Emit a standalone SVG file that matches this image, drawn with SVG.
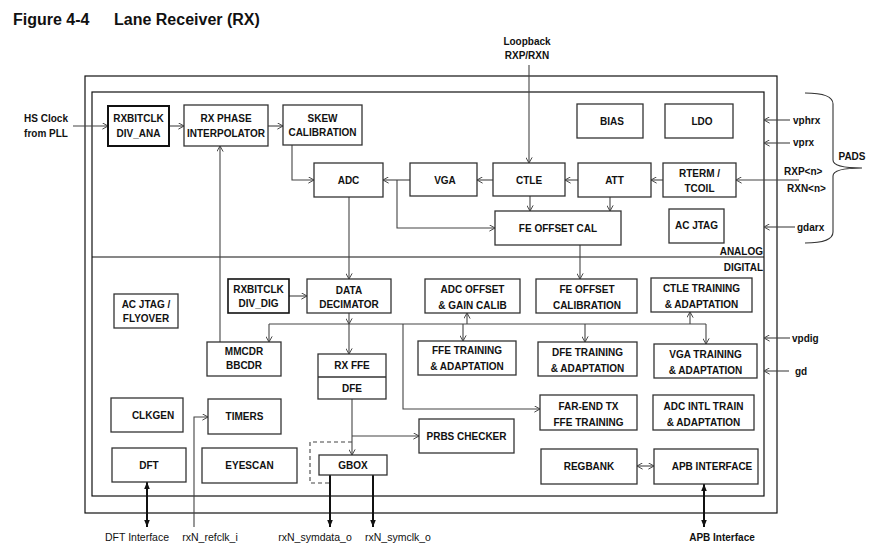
<svg xmlns="http://www.w3.org/2000/svg" width="871" height="550" viewBox="0 0 871 550">
<style>
text{font-family:"Liberation Sans",Arial,sans-serif;font-size:10px;font-weight:bold;fill:#111}
.c{text-anchor:middle}
.r{text-anchor:end}
.bx{fill:#fff;stroke:#333;stroke-width:1.3}
.bk{fill:#fff;stroke:#111;stroke-width:2}
.fr{fill:none;stroke:#111;stroke-width:1.2}
.ln{fill:none;stroke:#444;stroke-width:1.1}
.ar{marker-end:url(#a)}
.ab{marker-start:url(#a);marker-end:url(#a)}
.th{fill:none;stroke:#111;stroke-width:2}
.te{marker-end:url(#f)}
.tb{marker-start:url(#f);marker-end:url(#f)}
.reg{font-weight:normal;font-size:10.5px}
.title{font-size:16px}
</style>
<defs>
<marker id="a" viewBox="0 0 10 10" refX="10" refY="5" markerWidth="7" markerHeight="7" markerUnits="userSpaceOnUse" orient="auto-start-reverse"><path d="M2,0.5 L10,5 L2,9.5" fill="none" stroke="#444" stroke-width="1.4"/></marker>
<marker id="f" viewBox="0 0 10 10" refX="10" refY="5" markerWidth="7" markerHeight="7" markerUnits="userSpaceOnUse" orient="auto-start-reverse"><path d="M0,1 L10,5 L0,9 z" fill="#111"/></marker>
</defs>

<text x="13" y="25" class="title">Figure 4-4</text>
<text x="114" y="25" class="title">Lane Receiver (RX)</text>

<g id="frames">
<rect class="fr" x="85" y="76" width="692" height="437"/>
<rect class="fr" x="92" y="92" width="672" height="404"/>
<line class="fr" x1="92" y1="257" x2="764" y2="257"/>
<text x="763" y="255" class="r">ANALOG</text>
<text x="763" y="271" class="r">DIGITAL</text>
</g>

<g id="labels">
<text x="46" y="122" class="c">HS Clock</text>
<text x="46" y="137" class="c">from PLL</text>
<text x="527" y="45" class="c">Loopback</text>
<text x="527" y="59" class="c">RXP/RXN</text>
<text x="793" y="124">vphrx</text>
<text x="793" y="146">vprx</text>
<text x="784" y="175">RXP&lt;n&gt;</text>
<text x="787" y="192">RXN&lt;n&gt;</text>
<text x="797" y="231">gdarx</text>
<text x="792" y="342">vpdig</text>
<text x="795" y="375">gd</text>
<text x="852" y="160" class="c">PADS</text>
<path d="M805,93 Q833,93 833,104 V160 Q833,168 862,168 Q833,168 833,176 V232 Q833,243 805,243" fill="none" stroke="#333" stroke-width="1.1"/>
<text x="137" y="541" class="c reg">DFT  Interface</text>
<text x="210" y="541" class="c reg">rxN_refclk_i</text>
<text x="315" y="541" class="c reg">rxN_symdata_o</text>
<text x="398" y="541" class="c reg">rxN_symclk_o</text>
<text x="722" y="541" class="c">APB Interface</text>
</g>

<g id="connectors">
<path class="ln ar" d="M73,126 H108"/>
<path class="ln ar" d="M169,126 H184"/>
<path class="ln ar" d="M268,126 H283"/>
<path class="ln ar" d="M292,145 V180 H314"/>
<path class="ln ar" d="M220,342 V146"/>
<path class="ln ar" d="M529,65 V163"/>
<path class="ln ar" d="M493,180 H477"/>
<path class="ln ar" d="M410,180 H383"/>
<path class="ln ar" d="M578,180 H565"/>
<path class="ln ar" d="M663,180 H651"/>
<path class="ln ar" d="M799,180 H736"/>
<path class="ln ar" d="M397,180 V228 H495"/>
<path class="ln ar" d="M530,196 V211"/>
<path class="ln ar" d="M610,197 V211"/>
<path class="ln ar" d="M580,245 V279"/>
<path class="ln ar" d="M349,197 V279"/>
<path class="ln ar" d="M289,296 H307"/>
<path class="ln ar" d="M349,313 V324"/>
<path class="ln ar" d="M349,324 V354"/>
<path class="ln" d="M269,324 H706"/>
<path class="ln ar" d="M269,324 V342"/>
<path class="ln ar" d="M403,324 V409 H540"/>
<path class="ln ar" d="M463,324 V341"/>
<path class="ln ar" d="M467,324 V313"/>
<path class="ln ar" d="M585,324 V342"/>
<path class="ln ar" d="M690,324 V312"/>
<path class="ln ar" d="M706,324 V344"/>
<path class="ln ar" d="M352,399 V455"/>
<path class="ln ar" d="M352,436 H419"/>
<path class="ln ar" d="M194,527 V417 H208"/>
<path class="ln ab" d="M637,466 H654"/>
<path class="ln" d="M352,442 H310 V483 H330" stroke-dasharray="4,3"/>
<path class="th tb" d="M147,482 V527"/>
<path class="th te" d="M330,475 V527"/>
<path class="th te" d="M373,475 V527"/>
<path class="th tb" d="M704,484 V527"/>
<path class="ln ar" d="M790,120 H764"/>
<path class="ln ar" d="M790,143 H764"/>
<path class="ln ar" d="M795,227 H764"/>
<path class="ln ar" d="M790,338 H764"/>
<path class="ln ar" d="M789,371 H764"/>
</g>

<g id="rxbitclk_div_ana"><rect class="bk" x="108" y="106" width="61" height="40"/><text x="138.5" y="122" class="c">RXBITCLK</text><text x="138.5" y="137" class="c">DIV_ANA</text></g>
<g id="rx_phase_interpolator"><rect class="bx" x="184" y="105" width="84" height="41"/><text x="226" y="122" class="c">RX PHASE</text><text x="226" y="137" class="c">INTERPOLATOR</text></g>
<g id="skew_calibration"><rect class="bx" x="283" y="105" width="79" height="40"/><text x="322.5" y="122" class="c">SKEW</text><text x="322.5" y="136" class="c">CALIBRATION</text></g>
<g id="bias"><rect class="bx" x="577" y="104" width="66" height="34"/><text x="612" y="125" class="c">BIAS</text></g>
<g id="ldo"><rect class="bx" x="665" y="104" width="68" height="34"/><text x="702" y="125" class="c">LDO</text></g>
<g id="adc"><rect class="bx" x="314" y="163" width="69" height="34"/><text x="348.5" y="184" class="c">ADC</text></g>
<g id="vga"><rect class="bx" x="410" y="163" width="67" height="33"/><text x="445" y="184" class="c">VGA</text></g>
<g id="ctle"><rect class="bx" x="493" y="163" width="72" height="33"/><text x="529" y="184" class="c">CTLE</text></g>
<g id="att"><rect class="bx" x="578" y="163" width="73" height="34"/><text x="614.5" y="184" class="c">ATT</text></g>
<g id="rterm_tcoil"><rect class="bx" x="663" y="163" width="73" height="34"/><text x="699.5" y="177" class="c">RTERM /</text><text x="699.5" y="192" class="c">TCOIL</text></g>
<g id="fe_offset_cal"><rect class="bx" x="495" y="211" width="126" height="34"/><text x="558" y="232" class="c">FE OFFSET CAL</text></g>
<g id="ac_jtag"><rect class="bx" x="669" y="209" width="55" height="34"/><text x="696.5" y="229" class="c">AC JTAG</text></g>
<g id="rxbitclk_div_dig"><rect class="bk" x="228" y="279" width="61" height="34" style="stroke-width:1.6"/><text x="258.5" y="293" class="c">RXBITCLK</text><text x="258.5" y="307" class="c">DIV_DIG</text></g>
<g id="data_decimator"><rect class="bx" x="307" y="279" width="84" height="34"/><text x="349" y="294" class="c">DATA</text><text x="349" y="308" class="c">DECIMATOR</text></g>
<g id="ac_jtag_flyover"><rect class="bx" x="114" y="294" width="64" height="34"/><text x="146" y="308" class="c">AC JTAG /</text><text x="146" y="322" class="c">FLYOVER</text></g>
<g id="adc_offset"><rect class="bx" x="425" y="279" width="95" height="34"/><text x="472.5" y="293" class="c">ADC OFFSET</text><text x="472.5" y="309" class="c">&amp; GAIN CALIB</text></g>
<g id="fe_offset_calibration"><rect class="bx" x="536" y="279" width="101" height="34"/><text x="587" y="293" class="c">FE OFFSET</text><text x="587" y="309" class="c">CALIBRATION</text></g>
<g id="ctle_training"><rect class="bx" x="651" y="278" width="101" height="34"/><text x="701.5" y="292" class="c">CTLE TRAINING</text><text x="701.5" y="308" class="c">&amp; ADAPTATION</text></g>
<g id="mmcdr_bbcdr"><rect class="bx" x="207" y="342" width="74" height="34"/><text x="244" y="355" class="c">MMCDR</text><text x="244" y="369" class="c">BBCDR</text></g>
<g id="rx_ffe_dfe"><rect class="bx" x="318" y="354" width="68" height="45"/><line x1="318" y1="377" x2="386" y2="377" stroke="#333" stroke-width="1.3"/><text x="352" y="369" class="c">RX FFE</text><text x="352" y="392" class="c">DFE</text></g>
<g id="ffe_training"><rect class="bx" x="418" y="341" width="98" height="34"/><text x="467" y="354" class="c">FFE TRAINING</text><text x="467" y="370" class="c">&amp; ADAPTATION</text></g>
<g id="dfe_training"><rect class="bx" x="538" y="342" width="99" height="34"/><text x="587.5" y="356" class="c">DFE TRAINING</text><text x="587.5" y="372" class="c">&amp; ADAPTATION</text></g>
<g id="vga_training"><rect class="bx" x="654" y="344" width="103" height="34"/><text x="705.5" y="358" class="c">VGA TRAINING</text><text x="705.5" y="374" class="c">&amp; ADAPTATION</text></g>
<g id="far_end_tx"><rect class="bx" x="540" y="395" width="97" height="35"/><text x="588.5" y="410" class="c">FAR-END TX</text><text x="588.5" y="426" class="c">FFE TRAINING</text></g>
<g id="adc_intl_train"><rect class="bx" x="653" y="395" width="101" height="35"/><text x="703.5" y="410" class="c">ADC INTL TRAIN</text><text x="703.5" y="426" class="c">&amp; ADAPTATION</text></g>
<g id="prbs_checker"><rect class="bx" x="419" y="419" width="95" height="34"/><text x="466.5" y="440" class="c">PRBS CHECKER</text></g>
<g id="regbank"><rect class="bx" x="541" y="449" width="96" height="35"/><text x="589" y="470" class="c">REGBANK</text></g>
<g id="apb_interface"><rect class="bx" x="654" y="449" width="104" height="35"/><text x="712" y="470" class="c">APB INTERFACE</text></g>
<g id="clkgen"><rect class="bx" x="111" y="398" width="72" height="34"/><text x="153" y="419" class="c">CLKGEN</text></g>
<g id="timers"><rect class="bx" x="208" y="399" width="73" height="35"/><text x="244.5" y="420" class="c">TIMERS</text></g>
<g id="dft"><rect class="bx" x="112" y="448" width="74" height="34"/><text x="149" y="469" class="c">DFT</text></g>
<g id="eyescan"><rect class="bx" x="202" y="448" width="95" height="35"/><text x="249.5" y="469" class="c">EYESCAN</text></g>
<g id="gbox"><rect class="bx" x="319" y="455" width="68" height="20"/><text x="353" y="469" class="c">GBOX</text></g>
</svg>
